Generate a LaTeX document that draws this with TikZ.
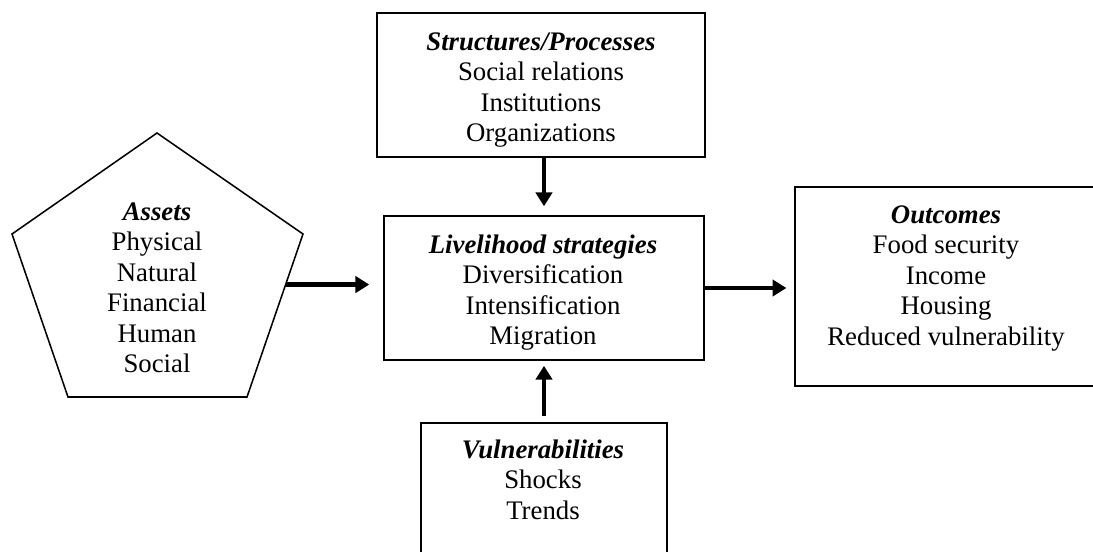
\documentclass[tikz,border=0pt]{standalone}
\usepackage{fontspec}
\setmainfont{Liberation Serif}
\usetikzlibrary{calc,arrows.meta}

\begin{document}
\begin{tikzpicture}[x=0.016cm, y=-0.016cm,
		box/.style={draw, line width=0.7pt, inner sep=0pt},
		txt/.style={align=center, inner sep=0pt, anchor=north, font=\fontsize{12.2}{13.9}\selectfont},
		arr/.style={line width=2.2pt, -{Triangle[length=6.3pt, width=7.4pt]}}]
			%%%%% START %%%%%
			\useasboundingbox (0, 0) rectangle (1093, 551);
			
			% boxes
			\node[box, minimum width=5.248cm, minimum height=2.304cm] (struct) at (541, 85) {};
			\node[box, minimum width=5.12cm, minimum height=2.304cm] (live) at (544, 288) {};
			\node[box, minimum width=4.832cm, minimum height=3.184cm] (outc) at (946, 286.5) {};
			\node[box, minimum width=3.936cm, minimum height=2.304cm] (vuln) at (544, 495) {};
			
			% pentagon
			\draw[line width=0.7pt] (157, 133) coordinate (pT) -- (303, 234) coordinate (pR) -- (247, 397) coordinate (pBR)
				-- (68, 397) coordinate (pBL) -- (12, 234) coordinate (pL) -- cycle;
			\coordinate (assetsout) at ($(pR)!0.31!(pBR)$);
			
			% texts
			\node[txt] (structtxt) at (541, 32) {\textbf{\textit{Structures/Processes}}\\Social relations\\Institutions\\Organizations};
			\node[txt] (livetxt) at (543, 234) {\textbf{\textit{Livelihood strategies}}\\Diversification\\Intensification\\Migration};
			\node[txt] (assetstxt) at (157, 202) {\textbf{\textit{Assets}}\\Physical\\Natural\\Financial\\Human\\Social};
			\node[txt] (outctxt) at (946, 205) {\textbf{\textit{Outcomes}}\\Food security\\Income\\Housing\\Reduced vulnerability};
			\node[txt] (vulntxt) at (543, 439) {\textbf{\textit{Vulnerabilities}}\\Shocks\\Trends};
			
			% arrows
			\draw[arr, shorten >=4.1pt] (struct.south -| live.north) -- (live.north);
			\draw[arr, shorten <=2.7pt, shorten >=2.3pt] (vuln.north) -- (live.south);
			\draw[arr, shorten >=6.4pt] (assetsout) -- (assetsout -| live.west);
			\draw[arr, shorten >=3.6pt] (live.east) -- (live.east -| outc.west);
			
			%%%%% END %%%%%
		\end{tikzpicture}
\end{document}
